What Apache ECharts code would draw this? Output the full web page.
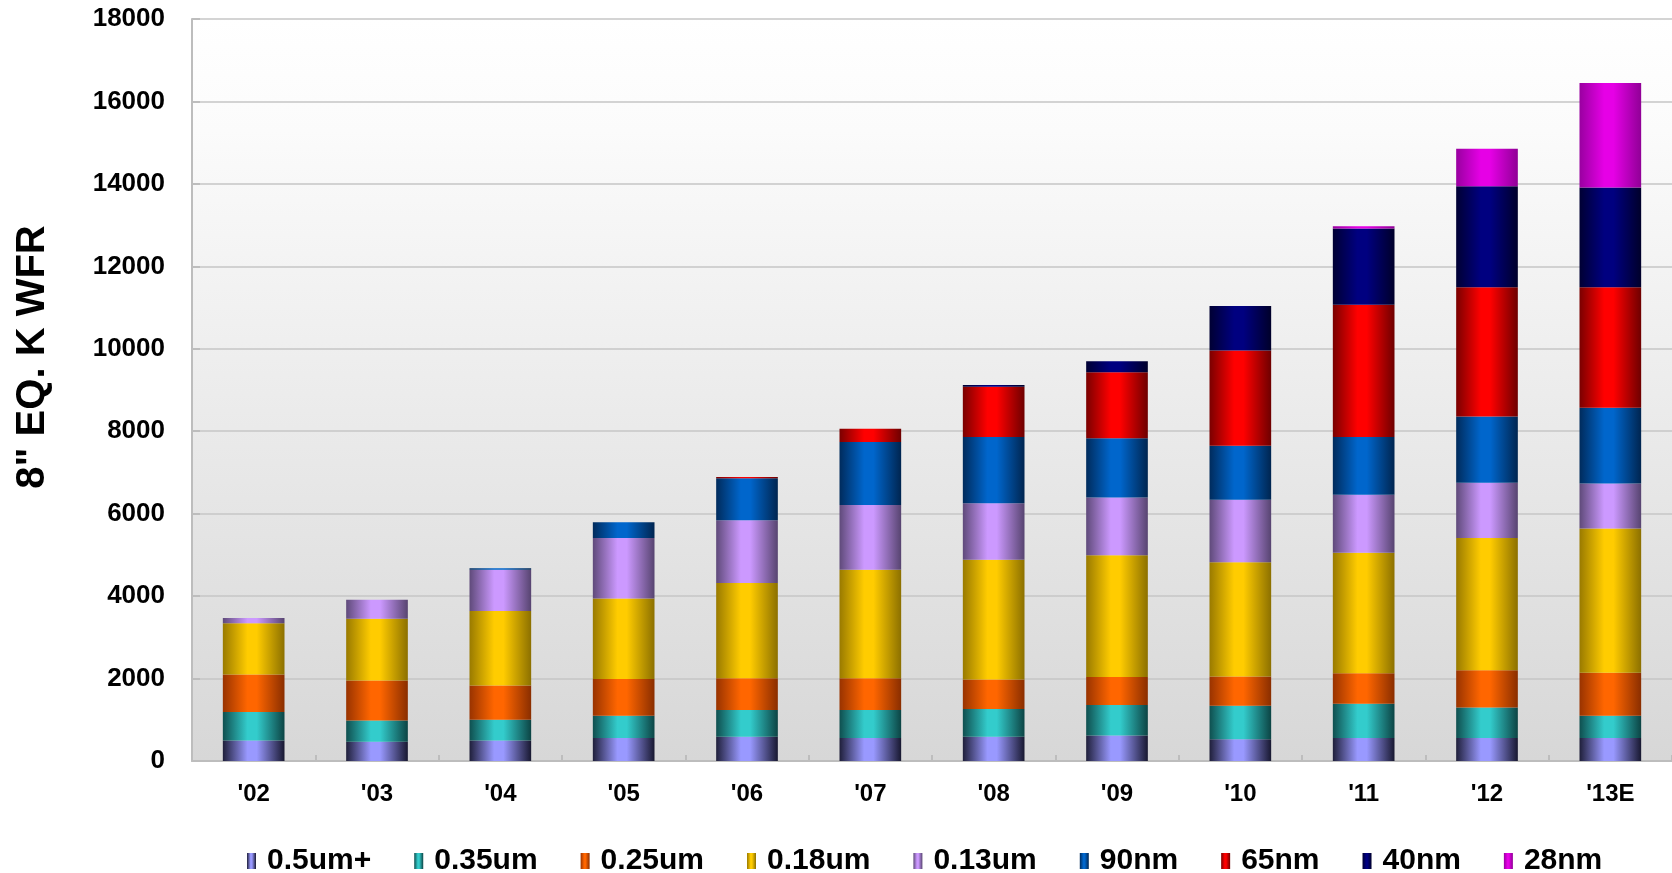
<!DOCTYPE html>
<html>
<head>
<meta charset="utf-8">
<script src="https://cdn.jsdelivr.net/npm/echarts@6/dist/echarts.min.js"></script>
<style>
html,body{margin:0;padding:0;background:#fff;}
#chart{width:1672px;height:873px;}
</style>
</head>
<body>
<div id="chart"></div>
<script>
// ---- data ----
const categories = ["'02","'03","'04","'05","'06","'07","'08","'09","'10","'11","'12","'13E"];
const seriesNames = ["0.5um+","0.35um","0.25um","0.18um","0.13um","90nm","65nm","40nm","28nm"];
const s05  = [500, 470, 500, 560, 590, 560, 590, 620, 530, 560, 560, 560];
const s035 = [690, 510, 500, 540, 650, 680, 670, 740, 810, 830, 740, 540];
const s025 = [910, 970, 830, 890, 770, 770, 720, 680, 710, 740, 900, 1040];
const s018 = [1240, 1500, 1810, 1950, 2310, 2630, 2900, 2950, 2770, 2920, 3210, 3500];
const s013 = [130, 460, 1000, 1470, 1520, 1570, 1370, 1400, 1520, 1410, 1340, 1090];
const s90  = [0, 0, 35, 380, 1020, 1530, 1610, 1440, 1310, 1400, 1610, 1840];
const s65  = [0, 0, 0, 0, 30, 320, 1220, 1600, 2310, 3210, 3130, 2920];
const s40  = [0, 0, 0, 0, 0, 0, 40, 270, 1080, 1850, 2450, 2420];
const s28  = [0, 0, 0, 0, 0, 0, 0, 0, 0, 50, 910, 2540];
const yTicks = [0, 2000, 4000, 6000, 8000, 10000, 12000, 14000, 16000, 18000];

// ---- styles ----
const seriesData = [s05, s035, s025, s018, s013, s90, s65, s40, s28];
const palette = [
  ['#1f1f3a', '#9999ff', '#181830'],
  ['#0f4f4f', '#33cccc', '#0c4444'],
  ['#993300', '#ff6600', '#8a2e00'],
  ['#997a00', '#ffcc00', '#8c7000'],
  ['#5f4a7a', '#cc99ff', '#574470'],
  ['#002b5c', '#0066cc', '#002550'],
  ['#7a0000', '#ff0000', '#6e0000'],
  ['#000033', '#000080', '#00002a'],
  ['#9900a0', '#e600e6', '#900096']
];
function grad(p) {
  return {
    type: 'linear', x: 0, y: 0, x2: 1, y2: 0,
    colorStops: [
      {offset: 0, color: p[0]},
      {offset: 0.4, color: p[1]},
      {offset: 0.55, color: p[1]},
      {offset: 1, color: p[2]}
    ]
  };
}
const FONT = "'Liberation Sans', Arial, sans-serif";

const chart = echarts.init(document.getElementById('chart'), null, {renderer: 'canvas'});
const option = {
  backgroundColor: '#ffffff',
  animation: false,
  grid: {
    left: 192, right: 0, top: 19, bottom: 112,
    show: true,
    borderWidth: 0,
    backgroundColor: {
      type: 'linear', x: 0, y: 0, x2: 0, y2: 1,
      colorStops: [
        {offset: 0, color: '#ffffff'},
        {offset: 0.15, color: '#fbfbfb'},
        {offset: 1, color: '#d7d7d7'}
      ]
    }
  },
  legend: {
    left: 242,
    top: 841,
    icon: 'rect',
    itemWidth: 9,
    itemHeight: 16,
    itemGap: 43,
    data: seriesNames,
    textStyle: {
      fontFamily: FONT, fontSize: 30, fontWeight: 'bold', color: '#000',
      padding: [0, 0, 0, 6]
    }
  },
  graphic: [{
    type: 'text',
    x: 33, y: 357,
    rotation: Math.PI / 2,
    style: {
      text: '8" EQ. K WFR',
      fontFamily: FONT, fontSize: 40, fontWeight: 'bold', fill: '#000',
      textAlign: 'center', textVerticalAlign: 'middle'
    }
  }],
  xAxis: {
    type: 'category',
    data: categories,
    boundaryGap: true,
    axisLine: {show: true, lineStyle: {color: '#bdbdbd', width: 2}},
    axisTick: {show: true, inside: true, length: 6, lineStyle: {color: '#bdbdbd', width: 2}},
    axisLabel: {margin: 21, fontFamily: FONT, fontSize: 24, fontWeight: 'bold', color: '#000'},
    splitLine: {show: false}
  },
  yAxis: {
    type: 'value',
    min: yTicks[0],
    max: yTicks[yTicks.length - 1],
    interval: yTicks[1] - yTicks[0],
    axisLine: {show: true, lineStyle: {color: '#bdbdbd', width: 2}},
    axisTick: {show: true, inside: true, length: 8, lineStyle: {color: '#bdbdbd', width: 2}},
    axisLabel: {
      margin: 27, fontFamily: FONT, fontSize: 26, fontWeight: 'bold', color: '#000',
      formatter: function (v) { return String(v); }
    },
    splitLine: {show: true, lineStyle: {color: '#c6c6c6', width: 1.5}}
  },
  series: seriesNames.map((name, i) => ({
    name: name,
    type: 'bar',
    stack: 'total',
    barWidth: '50%',
    data: seriesData[i],
    itemStyle: {color: grad(palette[i]), borderWidth: 0}
  }))
};
chart.setOption(option);
</script>
</body>
</html>
